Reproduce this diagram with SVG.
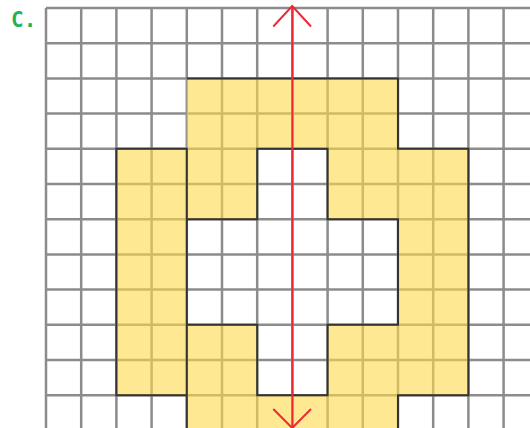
<svg xmlns="http://www.w3.org/2000/svg" width="530" height="428" viewBox="0 0 530 428">
<style>
.g{stroke:#8c8c8c;stroke-width:2.5;fill:none}
.shape{fill:#ffd84a;fill-opacity:0.6;fill-rule:evenodd}
.outline{fill:none;stroke:#333;stroke-width:2;stroke-linejoin:miter}
.axis{stroke:#ec2a34;stroke-width:2;fill:none}
</style>
<rect width="530" height="428" fill="#fff"/>
<text x="11" y="27" font-family="DejaVu Sans Mono, monospace" font-weight="bold" font-size="21" fill="#1fb356">C.</text>
<g id="grid">
<path class="g" d="M46 8V428M81.2 8V428M116.4 8V428M151.6 8V428M186.8 8V428M222 8V428M257.2 8V428M292.4 8V428M327.6 8V428M362.8 8V428M398 8V428M433.2 8V428M468.4 8V428M503.6 8V428
M46 8H530M46 43.2H530M46 78.4H530M46 113.6H530M46 148.8H530M46 184H530M46 219.2H530M46 254.4H530M46 289.6H530M46 324.8H530M46 360H530M46 395.2H530"/>
</g>
<g id="figure">
<path class="shape" d="M186.8 78.4H398V148.8H468.4V395.2H398V430H186.8V395.2H116.4V148.8H186.8Z M257.2 148.8H327.6V219.2H398V324.8H327.6V395.2H257.2V324.8H186.8V219.2H257.2Z"/>
<path class="outline" d="M186.8 78.4H398V148.8H468.4V395.2H398V430M186.8 430V395.2H116.4V148.8H186.8Z M257.2 148.8H327.6V219.2H398V324.8H327.6V395.2H257.2V324.8H186.8V219.2H257.2Z"/>
</g>
<g id="axis">
<path class="axis" d="M292.4 6V428"/>
<path class="axis" d="M273.3 26.5L292.2 6L311 26.5"/>
<path class="axis" d="M273.3 409L292.2 428L311 409"/>
</g>
</svg>
